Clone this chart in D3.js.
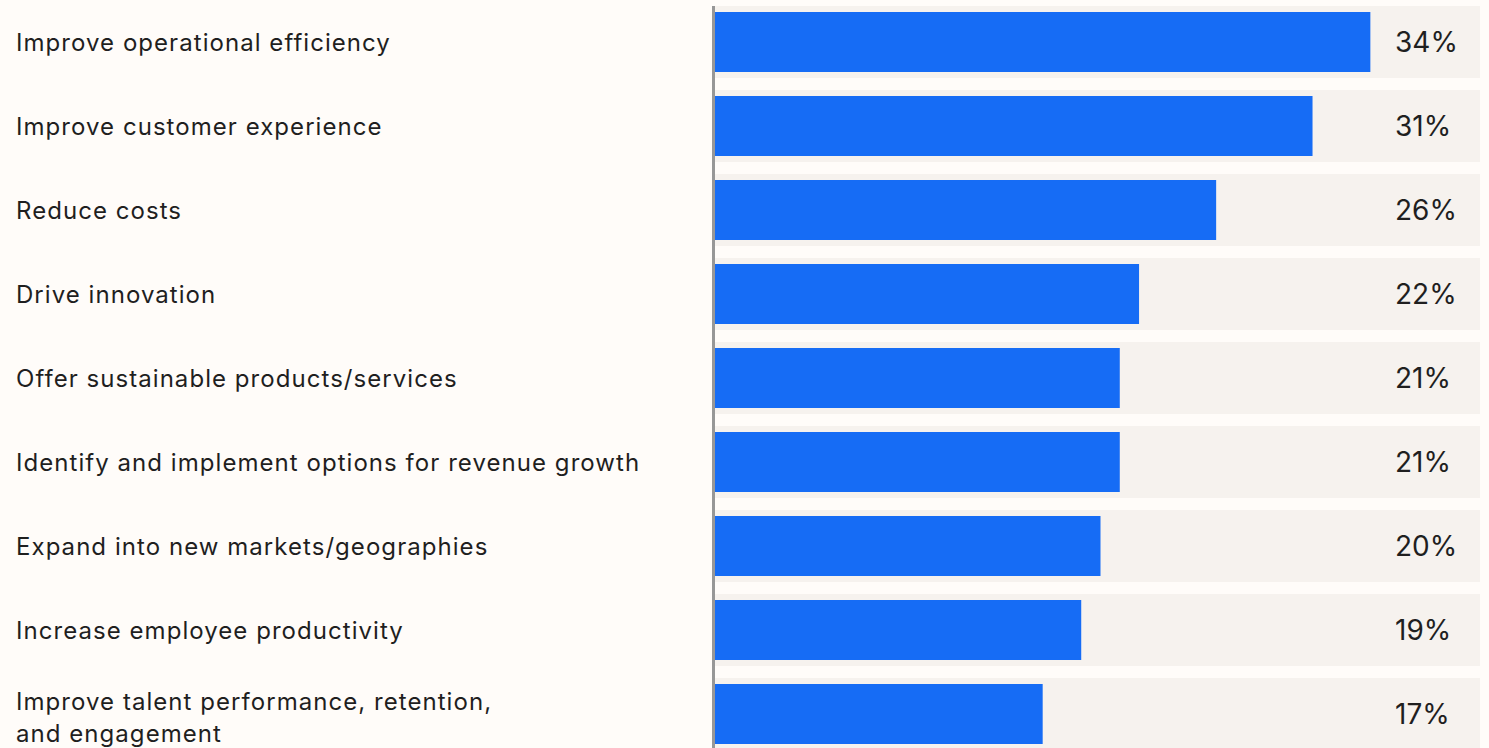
<!DOCTYPE html>
<html>
<head>
<meta charset="utf-8">
<script src="https://cdn.jsdelivr.net/npm/d3@7"></script>
<style>
  html, body { margin: 0; padding: 0; background: #fffcf9; }
  svg { display: block; }
  text { font-family: Inter, "Noto Sans", sans-serif; fill: #1f1f1f; }
</style>
</head>
<body>
<svg id="chart" width="1489" height="748"></svg>
<script>
// Share of respondents naming each goal
const categories = [
  ["Improve operational efficiency"],
  ["Improve customer experience"],
  ["Reduce costs"],
  ["Drive innovation"],
  ["Offer sustainable products/services"],
  ["Identify and implement options for revenue growth"],
  ["Expand into new markets/geographies"],
  ["Increase employee productivity"],
  ["Improve talent performance, retention,", "and engagement"]
];
const values = [34, 31, 26, 22, 21, 21, 20, 19, 17];
const valueLabels = ["34%", "31%", "26%", "22%", "21%", "21%", "20%", "19%", "17%"];

const svg = d3.select("#chart");

const plotLeft = 715, plotRight = 1480;
const rowTop = 6, rowStep = 84, rowGap = 12;

const x = d3.scaleLinear().domain([0, 40]).range([plotLeft, plotLeft + 771]);
const y = d3.scaleBand()
  .domain(d3.range(values.length))
  .range([rowTop, rowTop + rowStep * values.length - rowGap])
  .paddingInner(rowGap / rowStep)
  .paddingOuter(0);

const rows = svg.append("g").selectAll("g")
  .data(values.map((v, i) => ({ v, i, cat: categories[i], label: valueLabels[i] })))
  .join("g");

// background track for each row
rows.append("rect")
  .attr("x", plotLeft)
  .attr("y", d => y(d.i))
  .attr("width", plotRight - plotLeft)
  .attr("height", y.bandwidth())
  .attr("fill", "#f6f2ee");

// value bars, inset inside the track
rows.append("rect")
  .attr("x", x(0))
  .attr("y", d => y(d.i) + 6)
  .attr("width", d => x(d.v) - x(0))
  .attr("height", y.bandwidth() - 12)
  .attr("fill", "#166cf5");

// value labels
rows.append("text")
  .attr("x", 1395)
  .attr("y", d => y(d.i) + y.bandwidth() / 2 + 10)
  .attr("font-size", 28)
  .text(d => d.label);

// category labels (one or two lines)
rows.append("text")
  .attr("font-size", 24)
  .attr("letter-spacing", 1.05)
  .each(function(d) {
    const t = d3.select(this);
    const cy = y(d.i) + y.bandwidth() / 2;
    const lh = 32;
    const n = d.cat.length;
    const first = cy + 9 - (n - 1) * lh / 2 + (n > 1 ? 3 : 0);
    d.cat.forEach((line, k) => {
      t.append("tspan").attr("x", 16).attr("y", first + k * lh).text(line);
    });
  });

// left axis line
svg.append("line")
  .attr("x1", 713.5).attr("x2", 713.5)
  .attr("y1", rowTop).attr("y2", 748)
  .attr("stroke", "#979797")
  .attr("stroke-width", 3);
</script>
</body>
</html>
